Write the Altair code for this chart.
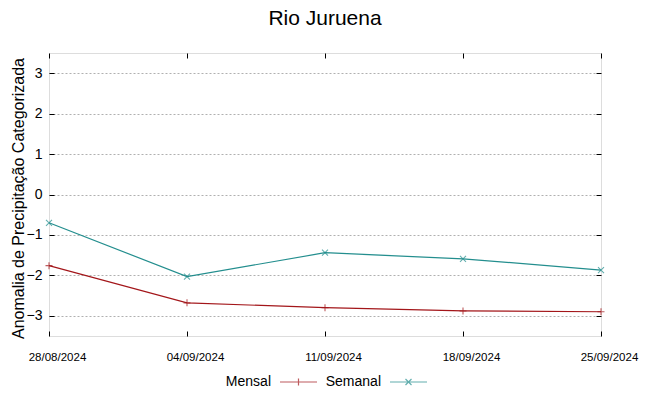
import altair as alt
import pandas as pd

dates = ["28/08/2024", "04/09/2024", "11/09/2024", "18/09/2024", "25/09/2024"]
mensal = [-1.76, -2.68, -2.80, -2.88, -2.90]
semanal = [-0.70, -2.03, -1.44, -1.59, -1.87]
series = ["Mensal", "Semanal"]
colors = ["#a3161a", "#238e8e"]
y_ticks = [-3, -2, -1, 0, 1, 2, 3]

df = pd.DataFrame({
    "data": dates * 2,
    "valor": mensal + semanal,
    "serie": [series[0]] * len(mensal) + [series[1]] * len(semanal),
})

FONT = "Liberation Sans"
W, H = 552, 283

plus_path = "M-1,0H1M0,-1V1"
x_path = "M-1,-1L1,1M-1,1L1,-1"
# legend samples: drawn to the right of the label (gnuplot style), pixel units
leg_plus = "M16,0H53M34.5,-3.5V3.5"
leg_x = "M16,0H53M31.5,-3L37.5,3M31.5,3L37.5,-3"

x_scale = alt.Scale(type="point", padding=0, domain=dates)
y_scale = alt.Scale(domain=[-3.5, 3.5], nice=False, zero=False)

color_nolegend = alt.Color("serie:N", scale=alt.Scale(domain=series, range=colors), legend=None)

x_bottom = alt.X(
    "data:N",
    sort=dates,
    scale=x_scale,
    axis=alt.Axis(
        orient="bottom",
        title=None,
        labelAngle=0,
        labelFont=FONT,
        labelFontSize=11.5,
        labelColor="#000000",
        labelPadding=15,
        labelOffset=8,
        tickSize=5,
        tickColor="#000000",
        offset=-5,
        domain=False,
        grid=False,
    ),
)

x_top = alt.X(
    "data:N",
    sort=dates,
    scale=x_scale,
    axis=alt.Axis(
        orient="top",
        title=None,
        labels=False,
        tickSize=5,
        tickColor="#000000",
        offset=-5,
        domain=False,
        grid=False,
    ),
)

y_left = alt.Y(
    "valor:Q",
    scale=y_scale,
    axis=alt.Axis(
        orient="left",
        values=y_ticks,
        title="Anomalia de Precipitação Categorizada",
        titleFont=FONT,
        titleFontSize=16,
        titleFontWeight="normal",
        titleColor="#000000",
        titlePadding=0,
        titleY=145,
        labelFont=FONT,
        labelFontSize=14,
        labelColor="#000000",
        labelPadding=7,
        tickSize=5,
        tickColor="#000000",
        offset=-5,
        domain=False,
        grid=True,
        gridDash=[2, 2],
        gridColor="#b0b0b0",
        gridWidth=1,
    ),
)

y_right = alt.Y(
    "valor:Q",
    scale=y_scale,
    axis=alt.Axis(
        orient="right",
        values=y_ticks,
        title=None,
        labels=False,
        tickSize=5,
        tickColor="#000000",
        offset=-5,
        domain=False,
        grid=False,
    ),
)

y_plain = alt.Y("valor:Q", scale=y_scale, axis=None)
x_plain = alt.X("data:N", sort=dates, scale=x_scale, axis=None)

lines = alt.Chart(df).mark_line(strokeWidth=1.2).encode(
    x=x_bottom,
    y=y_left,
    color=color_nolegend,
    detail="serie:N",
)

pts_mensal = (
    alt.Chart(df)
    .transform_filter(alt.datum.serie == series[0])
    .mark_point(filled=False, size=49, strokeWidth=1.1, shape=plus_path)
    .encode(x=x_top, y=y_right, color=color_nolegend)
)

pts_semanal = (
    alt.Chart(df)
    .transform_filter(alt.datum.serie == series[1])
    .mark_point(filled=False, size=36, strokeWidth=1.1, shape=x_path)
    .encode(x=x_plain, y=y_plain, color=color_nolegend)
)

leg_kwargs = dict(
    title=None,
    orient="none",
    direction="horizontal",
    legendX=208,
    legendY=322,
    labelFont=FONT,
    labelFontSize=14,
    labelColor="#000000",
    labelAlign="right",
    labelOffset=0,
    columnPadding=5,
    symbolSize=4,
    symbolStrokeWidth=1.2,
)

legend_layer = (
    alt.Chart(df)
    .transform_filter(alt.datum.valor > 100)
    .mark_point(filled=False, strokeWidth=1.2)
    .encode(
        color=alt.Color(
            "serie:N",
            scale=alt.Scale(domain=series, range=colors),
            legend=alt.Legend(**leg_kwargs),
        ),
        shape=alt.Shape(
            "serie:N",
            scale=alt.Scale(domain=series, range=[leg_plus, leg_x]),
            legend=alt.Legend(**leg_kwargs),
        ),
    )
)

chart = (
    alt.layer(legend_layer, lines, pts_mensal, pts_semanal)
    .resolve_scale(x="independent", y="independent")
    .resolve_axis(x="independent", y="independent")
    .properties(
        width=W,
        height=H,
        title=alt.Title(
            "Rio Juruena",
            font=FONT,
            fontSize=21,
            fontWeight="normal",
            color="#000000",
            offset=24,
        ),
        autosize=alt.AutoSizeParams(type="none"),
        padding={"left": 41, "top": 45, "right": 40, "bottom": 52},
        background="#ffffff",
    )
    .configure_view(stroke="#505050", strokeWidth=1.5)
    .configure(font=FONT)
)

chart.save("out.html", embed_options={"renderer": "svg", "actions": False})
